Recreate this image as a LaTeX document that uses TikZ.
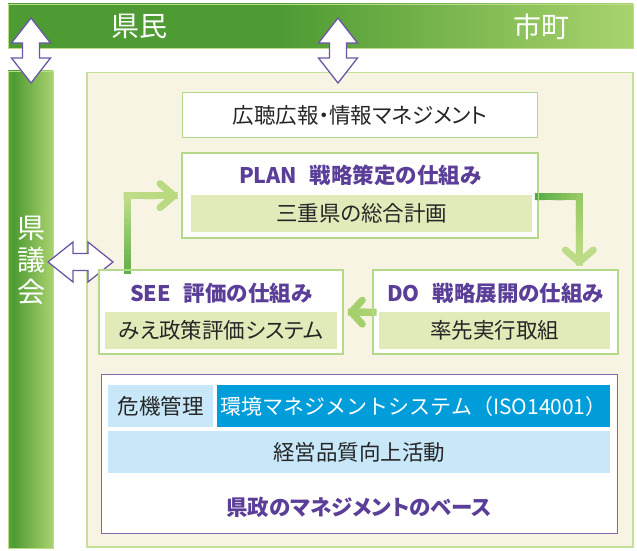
\documentclass[tikz,border=0pt]{standalone}
\usepackage{fontspec}
\setmainfont{Noto Sans CJK JP}[RawFeature=+palt]
\newfontfamily\nopaltfont{Noto Sans CJK JP}
\usetikzlibrary{calc}
\definecolor{gDark}{HTML}{4F9B33}
\definecolor{gEdge}{HTML}{5CA63E}
\definecolor{gLight}{HTML}{AAD36E}
\definecolor{beige}{HTML}{F7F4E4}
\definecolor{panelline}{HTML}{C5E09A}
\definecolor{boxline}{HTML}{B5D98A}
\definecolor{innergreen}{HTML}{E1EAB9}
\definecolor{purp}{HTML}{5A3E98}
\definecolor{arrline}{HTML}{6B57A5}
\definecolor{baseline}{HTML}{8069AB}
\definecolor{lblue}{HTML}{C8E7F8}
\definecolor{dblue}{HTML}{009DDB}
\definecolor{darktext}{HTML}{262626}
\definecolor{aA}{HTML}{5EAE45}
\definecolor{aB}{HTML}{C0DC8A}
\definecolor{aC}{HTML}{B9DA80}
\definecolor{aD}{HTML}{52AB46}
\definecolor{aE}{HTML}{93C862}
\definecolor{aF}{HTML}{BEDC87}
\definecolor{aG}{HTML}{ADD374}
\definecolor{aH}{HTML}{A6D06E}
\pgfdeclarehorizontalshading{topbarsh}{100bp}{color(0bp)=(gDark); color(25bp)=(gDark); color(47bp)=(gDark); color(75bp)=(gLight); color(100bp)=(gLight)}
\pgfdeclarehorizontalshading{leftbarsh}{100bp}{color(0bp)=(gEdge); color(25bp)=(gEdge); color(31bp)=(gDark); color(75bp)=(gLight); color(100bp)=(gLight)}
\newcommand\myGradSeg[4]{%
  \foreach \i in {0,...,11}{%
    \pgfmathtruncatemacro\pa{\i*100/12}%
    \pgfmathtruncatemacro\pb{(\i+1)*100/12}%
    \pgfmathtruncatemacro\pc{(\i+0.5)*100/12}%
    \draw[garrow, color=#4!\pc!#3] ($(#1)!\pa/100!(#2)$) -- ($(#1)!\pb/100!(#2)$);
  }}
\newcommand\myVArrow[3]{%
  \draw[dbl] (#1,#2) -- (#1+19.5,#2+25) -- (#1+8.5,#2+25) -- (#1+8.5,#3-25) -- (#1+19.5,#3-25)
    -- (#1,#3) -- (#1-19.5,#3-25) -- (#1-8.5,#3-25) -- (#1-8.5,#2+25) -- (#1-19.5,#2+25) -- cycle;}
\newcommand\myHArrow[3]{%
  \draw[dbl] (#2,#1) -- (#2+25,#1-20) -- (#2+25,#1-8.5) -- (#3-25,#1-8.5) -- (#3-25,#1-20)
    -- (#3,#1) -- (#3-25,#1+20) -- (#3-25,#1+8.5) -- (#2+25,#1+8.5) -- (#2+25,#1+20) -- cycle;}
\begin{document}
\begin{tikzpicture}[x=1pt,y=-1pt,
  garrow/.style={line width=7pt, line cap=rect},
  chev/.style={line width=7pt, line cap=round, line join=round},
  dbl/.style={draw=arrline, fill=white, line width=1.3pt, line join=miter},
  box/.style={draw=boxline, fill=white, line width=1.3pt, anchor=north west, inner sep=0pt},
  inbox/.style={fill=innergreen, anchor=north west, inner sep=0pt, font=\fontsize{21.5}{24}\selectfont, text=darktext},
  txt/.style={font=\fontsize{21.5}{24}\selectfont, text=darktext, inner sep=0pt},
  ttl/.style={font=\bfseries\fontsize{21.5}{24}\selectfont, text=purp, inner sep=0pt},
  bartxt/.style={font=\fontsize{28}{32}\selectfont, text=white, inner sep=0pt}]
\useasboundingbox (0,0) rectangle (637,551);
\fill[white] (0,0) rectangle (637,551);
% bars
\shade[shading=topbarsh] (8,4) rectangle (633,48);
\draw[gLight!80!white, line width=0.8pt] (8,4) rectangle (633,48);
\shade[shading=leftbarsh] (8,71) rectangle (53,548);
\draw[gLight!80!white, line width=0.8pt] (8,71) rectangle (53,548);
\node[bartxt] (kenmin) at (139,26) {県民};
\node[bartxt] (shicho) at (541,27) {市町};
\node[bartxt, align=center] (gikai) at (31,260) {県\\議\\会};
% panel
\node[draw=panelline, fill=beige, line width=1.5pt, anchor=north west, minimum width=546pt, minimum height=474pt, inner sep=0pt] (panel) at (86,72) {};
% double arrows
\myVArrow{31}{18}{83}
\myVArrow{338}{18}{83}
\myHArrow{262}{48}{113}
% boxes
\node[box, minimum width=355pt, minimum height=45pt] (koho) at (182,92) {};
\node[txt] (kohot) at (koho.center) {広聴広報・情報マネジメント};
\node[box, minimum width=355pt, minimum height=84pt] (plan) at (182,153) {};
\node[box, minimum width=243pt, minimum height=83pt] (see) at (99,270) {};
\node[box, minimum width=244pt, minimum height=83pt] (do) at (373,270) {};
\node[inbox, minimum width=341pt, minimum height=37pt] (plani) at (191,195) {三重県の総合計画};
\node[inbox, minimum width=232pt, minimum height=37pt] (seei) at (105,312) {みえ政策評価システム};
\node[inbox, minimum width=231pt, minimum height=37pt] (doi) at (379,312) {率先実行取組};
\node[ttl] (plant) at ($(plan.north)+(0,22)$) {PLAN\hspace{0.6em}戦略策定の仕組み};
\node[ttl] (seet) at ($(see.north)+(0,23)$) {SEE\hspace{0.6em}評価の仕組み};
\node[ttl] (dot) at ($(do.north)+(0,23)$) {DO\hspace{0.6em}戦略展開の仕組み};
% green arrows
\coordinate (a1s) at ($(see.north west)+(28,0)$);
\coordinate (a1c) at (a1s |- plan.west);
\coordinate (a1e) at ($(plan.west)+(-8,0)$);
\myGradSeg{a1s}{a1c}{aA}{aB}
\myGradSeg{a1c}{a1e}{aB}{aC}
\draw[chev, aC] ($(a1e)+(-14,-12)$) -- (a1e) -- ($(a1e)+(-14,12)$);
\coordinate (a2s) at ($(plan.east)+(0,1)$);
\coordinate (a2e) at ($(do.north east)+(-39,-8)$);
\coordinate (a2c) at (a2e |- a2s);
\myGradSeg{a2s}{a2c}{aD}{aE}
\myGradSeg{a2c}{a2e}{aE}{aF}
\draw[chev, aF] ($(a2e)+(-14,-12)$) -- (a2e) -- ($(a2e)+(14,-12)$);
\coordinate (a3s) at (do.west);
\coordinate (a3e) at ($(see.east)+(8,0)$);
\myGradSeg{a3s}{a3e}{aG}{aH}
\draw[chev, aH] ($(a3e)+(11,-12)$) -- (a3e) -- ($(a3e)+(11,12)$);
% redraw box edges over arrow caps
\draw[boxline, line width=1.3pt] (plan.north west) rectangle (plan.south east);
\draw[boxline, line width=1.3pt] (see.north west) rectangle (see.south east);
\draw[boxline, line width=1.3pt] (do.north west) rectangle (do.south east);
% base box
\node[draw=baseline, fill=white, line width=1.3pt, anchor=north west, minimum width=516pt, minimum height=159pt, inner sep=0pt] (base) at (101,374) {};
\node[fill=lblue, anchor=north west, minimum width=105pt, minimum height=42pt, inner sep=0pt, font=\fontsize{21.5}{24}\selectfont, text=darktext] (kiki) at (108,385) {危機管理};
\node[fill=dblue, anchor=north west, minimum width=393pt, minimum height=42pt, inner sep=0pt, font=\nopaltfont\fontsize{21}{24}\selectfont, text=white] (iso) at (217,385) {環境マネジメントシステム（ISO14001）};
\node[fill=lblue, anchor=north west, minimum width=502pt, minimum height=42pt, inner sep=0pt, font=\fontsize{21.5}{24}\selectfont, text=darktext] (keiei) at (108,431) {経営品質向上活動};
\node[ttl] (baset) at (359,507) {県政のマネジメントのベース};
\end{tikzpicture}
\end{document}
